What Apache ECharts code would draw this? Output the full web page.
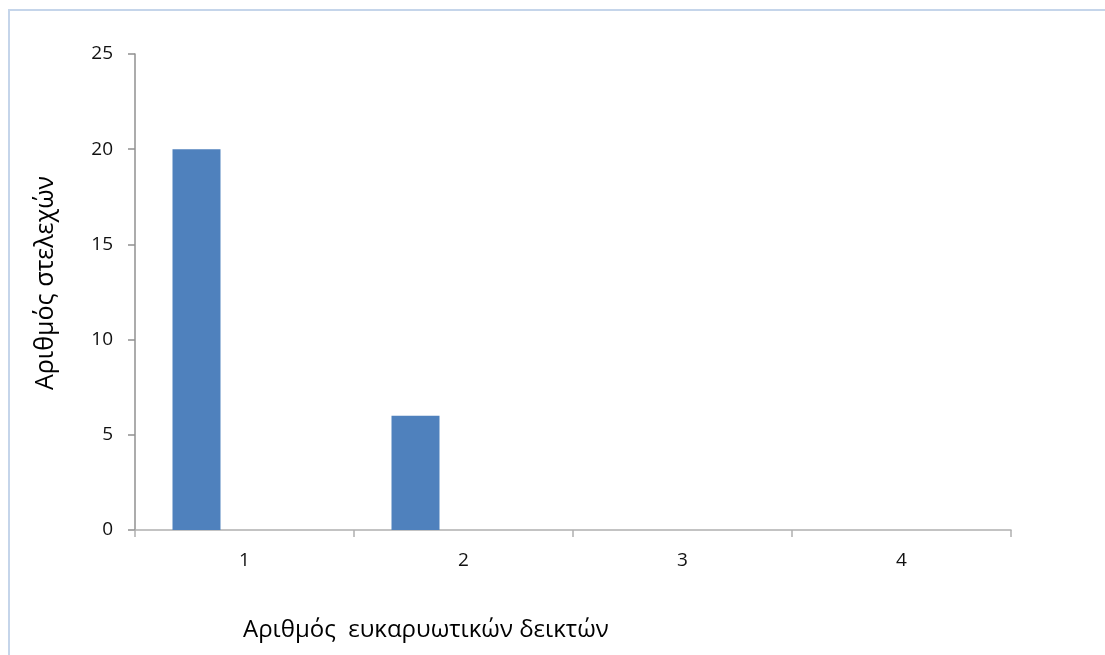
<!DOCTYPE html>
<html>
<head>
<meta charset="utf-8">
<script src="https://cdn.jsdelivr.net/npm/echarts@6/dist/echarts.min.js"></script>
<style>
html,body{margin:0;padding:0;background:#fff;}
#chart{width:1105px;height:655px;}
</style>
</head>
<body>
<div id="chart"></div>
<script>
const categories = ['1', '2', '3', '4'];
const series1 = [20, 6, 0, 0];
const series2 = [0, 0, 0, 0];
const series3 = [0, 0, 0, 0];
const yTicks = [0, 5, 10, 15, 20, 25];
const xAxisTitle = 'Αριθμός  ευκαρυωτικών δεικτών';
const yAxisTitle = 'Αριθμός στελεχών';

const FONT = 'Open Sans';
const chart = echarts.init(document.getElementById('chart'), null, {renderer: 'canvas'});
chart.setOption({
  backgroundColor: '#ffffff',
  animation: false,
  graphic: [
    {
      type: 'rect',
      shape: {x: 9, y: 10, width: 1110, height: 670},
      style: {fill: 'none', stroke: '#c5d5ea', lineWidth: 2}
    },
    {
      type: 'text',
      left: 243, top: 618,
      style: {text: xAxisTitle, font: '24px "Open Sans"', fill: '#000'}
    },
    {
      type: 'text',
      x: 46, y: 283,
      rotation: Math.PI / 2,
      style: {text: yAxisTitle, font: '25px "Open Sans"', fill: '#000', align: 'center', verticalAlign: 'middle'}
    }
  ],
  grid: {left: 135, right: 94, top: 54, bottom: 125, containLabel: false},
  xAxis: {
    type: 'category',
    data: categories,
    axisLine: {lineStyle: {color: '#b0b0b0', width: 1.5}},
    axisTick: {show: true, length: 7, lineStyle: {color: '#b0b0b0', width: 1.5}},
    axisLabel: {fontFamily: FONT, fontSize: 19, color: '#111', margin: 21},
    splitLine: {show: false}
  },
  yAxis: {
    type: 'value',
    min: yTicks[0],
    max: yTicks[yTicks.length - 1],
    interval: 5,
    axisLine: {show: true, lineStyle: {color: '#909090', width: 1.5}},
    axisTick: {show: true, length: 7, lineStyle: {color: '#909090', width: 1.5}},
    axisLabel: {fontFamily: FONT, fontSize: 19, color: '#111', margin: 22},
    splitLine: {show: false}
  },
  series: [
    {type: 'bar', data: series1, barWidth: 48, barGap: '0%', itemStyle: {color: '#4f81bd'}},
    {type: 'bar', data: series2, barWidth: 48, barGap: '0%', itemStyle: {color: '#c0504d'}},
    {type: 'bar', data: series3, barWidth: 48, barGap: '0%', itemStyle: {color: '#9bbb59'}}
  ]
});
</script>
</body>
</html>
